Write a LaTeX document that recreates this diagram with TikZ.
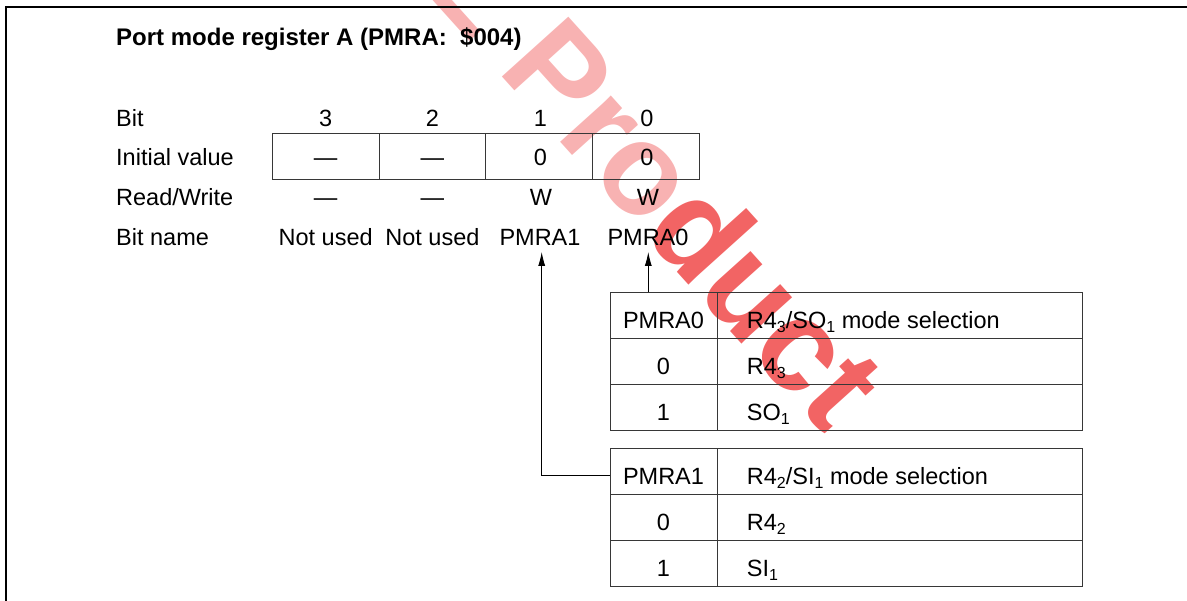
\documentclass[tikz,border=0pt]{standalone}
\usepackage{fontspec}
\setmainfont{Liberation Sans}
\usetikzlibrary{arrows.meta}
\definecolor{wmlight}{RGB}{248,178,178}
\definecolor{wmdark}{RGB}{242,100,100}
\definecolor{gridc}{RGB}{55,55,55}
\newcommand{\subsc}[1]{\raisebox{-4pt}{\fontsize{16}{16}\selectfont #1}}
\begin{document}
\begin{tikzpicture}[x=1pt,y=-1pt,
  txt/.style={inner sep=0pt, font=\fontsize{23.5}{28}\selectfont, anchor=base},
  lbl/.style={txt, anchor=base west},
  titlestyle/.style={inner sep=0pt, anchor=base west, font=\fontsize{24}{28}\selectfont\bfseries},
  nm/.style={txt, text depth=0pt, inner ysep=6pt},
  regcell/.style={draw=gridc, line width=1pt, minimum width=106.75pt, minimum height=46pt, inner sep=0pt},
  lcell/.style={draw=gridc, line width=1pt, minimum width=107pt, minimum height=#1, inner sep=0pt},
  rcell/.style={draw=gridc, line width=1pt, minimum width=365.4pt, minimum height=#1, inner sep=0pt},
  framel/.style={line width=1.2pt},
  arr/.style={line width=0.9pt, -{Latex[length=14pt,width=7pt]}}
]
\useasboundingbox (0,0) rectangle (1187,601);
% watermark
\begin{scope}
\clip (0,0) rectangle (1187,601);
\node[rotate=-48, anchor=base west, inner sep=0pt, font=\fontsize{130}{130}\selectfont\bfseries] (wm) at (419,-15)
  {\textcolor{wmlight}{L Pro}\textcolor{wmdark}{duct}};
\end{scope}
% frame
\draw[framel] (1187,7) -- (6,7) -- (6,601);
% title
\node[titlestyle] (title) at (116,45.7) {Port mode register A (PMRA:\ \ \$004)};
% row labels
\node[lbl] (lbit) at (116,126.3) {Bit};
\node[lbl] (linit) at (116,166) {Initial value};
\node[lbl] (lrw) at (116,205.8) {Read/Write};
\node[lbl] (lname) at (116,245.7) {Bit name};
% bit numbers
\node[txt] (b3) at (325.7,126.5) {3};
\node[txt] (b2) at (432.4,126.5) {2};
\node[txt] (b1) at (540.5,126.5) {1};
\node[txt] (b0) at (647,126.5) {0};
% register cells
\node[regcell] (c3) at (325.675,156.3) {};
\node[regcell] (c2) at (432.425,156.3) {};
\node[regcell] (c1) at (539.175,156.3) {};
\node[regcell] (c0) at (645.925,156.3) {};
\node[txt] (v3) at (325.7,166) {—};
\node[txt] (v2) at (432.4,166) {—};
\node[txt] (v1) at (540.5,166) {0};
\node[txt] (v0) at (647,166) {0};
% read/write
\node[txt] (w3) at (325.7,205.8) {—};
\node[txt] (w2) at (432.4,205.8) {—};
\node[txt] (w1) at (541,205.8) {W};
\node[txt] (w0) at (648,205.8) {W};
% bit names
\node[nm] (nm3) at (325.7,245.7) {Not used};
\node[nm] (nm2) at (432.4,245.7) {Not used};
\node[nm] (nm1) at (540,245.7) {PMRA1};
\node[nm] (nm0) at (648,245.7) {PMRA0};
% table 1
\node[lcell=46.1pt] (t1h)  at (663.5,315.75) {};
\node[rcell=46.1pt] (t1hr) at (899.7,315.75) {};
\node[lcell=46.1pt] (t1a)  at (663.5,361.85) {};
\node[rcell=46.1pt] (t1ar) at (899.7,361.85) {};
\node[lcell=46.1pt] (t1b)  at (663.5,407.95) {};
\node[rcell=46.1pt] (t1br) at (899.7,407.95) {};
\node[txt] (t1ht) at (663.5,328.2) {PMRA0};
\node[lbl] (t1hrt) at (746.7,328.2) {R4\subsc{3}/SO\subsc{1} mode selection};
\node[txt] (t1at) at (663.5,374.3) {0};
\node[lbl] (t1art) at (746.7,374.3) {R4\subsc{3}};
\node[txt] (t1bt) at (663.5,420.4) {1};
\node[lbl] (t1brt) at (746.7,420.4) {SO\subsc{1}};
% table 2
\node[lcell=45.9pt] (t2h)  at (663.5,471.95) {};
\node[rcell=45.9pt] (t2hr) at (899.7,471.95) {};
\node[lcell=45.9pt] (t2a)  at (663.5,517.85) {};
\node[rcell=45.9pt] (t2ar) at (899.7,517.85) {};
\node[lcell=45.9pt] (t2b)  at (663.5,563.75) {};
\node[rcell=45.9pt] (t2br) at (899.7,563.75) {};
\node[txt] (t2ht) at (663.5,484.5) {PMRA1};
\node[lbl] (t2hrt) at (746.7,484.5) {R4\subsc{2}/SI\subsc{1} mode selection};
\node[txt] (t2at) at (663.5,530.4) {0};
\node[lbl] (t2art) at (746.7,530.4) {R4\subsc{2}};
\node[txt] (t2bt) at (663.5,576.3) {1};
\node[lbl] (t2brt) at (746.7,576.3) {SI\subsc{1}};
% connectors
\draw[arr] ([xshift=0.3pt]nm0.south |- t1h.north) -- ([xshift=0.3pt]nm0.south);
\draw[arr] ([yshift=-3.7pt]t2h.west) -| ([xshift=1.7pt]nm1.south);
\end{tikzpicture}
\end{document}
